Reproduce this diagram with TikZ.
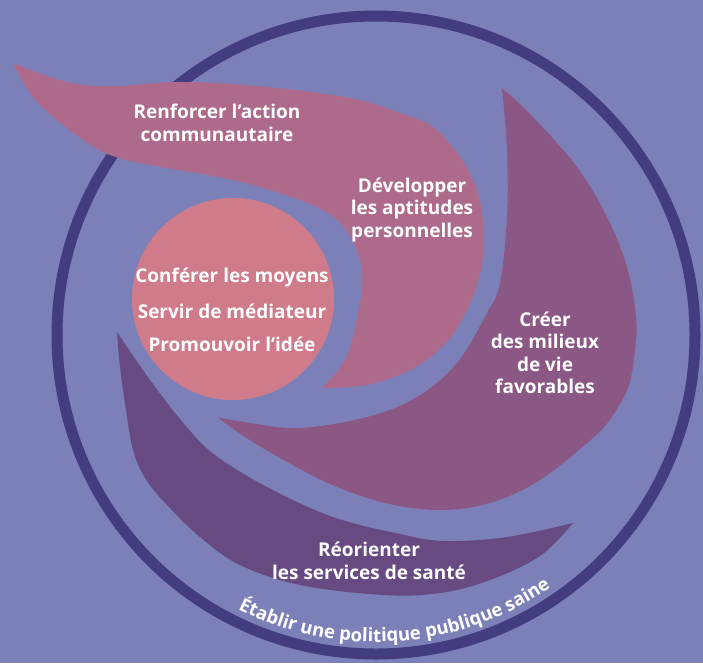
\documentclass[tikz,border=0pt]{standalone}
\usepackage{fontspec}
\setmainfont{Open Sans}
\usetikzlibrary{decorations.text}

\definecolor{fond}{RGB}{124,128,185}
\definecolor{anneau}{RGB}{67,60,127}
\definecolor{coeur}{RGB}{207,123,138}
\definecolor{renf}{RGB}{174,106,138}
\definecolor{cree}{RGB}{139,88,133}
\definecolor{reor}{RGB}{103,74,130}

\tikzset{
  etiq/.style={text=white, align=center, font=\bfseries\fontsize{19}{22.5}\selectfont},
  lisse/.style={smooth, tension=0.6}
}

\begin{document}
\begin{tikzpicture}[x=1pt,y=1pt]

\fill[fond] (0,0) rectangle (703,-663);
\useasboundingbox (0,0) rectangle (703,-663);

\draw[anneau, line width=11] (376,-335) circle[radius=319];

\fill[renf] plot[lisse] coordinates {(13,-63) (50,-77) (83,-85) (120,-86) (183,-82) (267,-87) (350,-98) (400,-113) (433,-127) (460,-157) (477,-190) (483,-223) (483,-257) (475,-290) (463,-318) (443,-346) (410,-370) (367,-385) (322,-388)}
  -- plot[lisse] coordinates {(322,-388) (340,-368) (350,-347) (358,-313) (362,-290) (361,-265) (352,-240) (335,-218) (300,-200) (233,-180) (167,-168) (110,-155) (67,-128) (33,-97) (13,-63)} -- cycle;

\fill[cree] plot[lisse] coordinates {(502,-88) (533,-117) (577,-167) (607,-217) (627,-267) (636,-317) (635,-350) (629,-385) (615,-412) (595,-436) (540,-480) (490,-503) (440,-510) (385,-503) (330,-484) (280,-458) (245,-437) (217,-417)}
  -- plot[lisse] coordinates {(217,-417) (250,-423) (300,-428) (367,-417) (417,-397) (457,-363) (487,-313) (500,-283) (507,-217) (507,-150) (502,-88)} -- cycle;

\fill[reor] plot[lisse] coordinates {(117,-332) (150,-380) (185,-425) (215,-455) (267,-487) (333,-517) (400,-534) (445,-541) (507,-537) (573,-523)}
  -- plot[lisse] coordinates {(573,-523) (540,-556) (490,-580) (440,-593) (383,-595) (300,-585) (240,-565) (200,-537) (167,-505) (145,-478) (133,-450) (126,-410) (120,-367) (117,-332)} -- cycle;

\fill[coeur] (233,-299) circle[radius=101];

\node[etiq] (renforcer) at (217,-123) {Renforcer l’action\\communautaire};
\node[etiq] (developper) at (412,-210) {Développer\\les aptitudes\\personnelles};
\node[etiq] (creer) at (545,-353) {Créer\\des milieux\\de vie\\favorables};
\node[etiq] (reorienter) at (369,-561) {Réorienter\\les services de santé};

\node[etiq] (conferer) at (232,-278) {Conférer les moyens};
\node[etiq] (servir) at (232,-311) {Servir de médiateur};
\node[etiq] (promouvoir) at (232,-344) {Promouvoir l’idée};

\path[decorate, decoration={text along path, text align=center,
    text={|\bfseries\fontsize{18.5}{18.5}\selectfont\color{white}|Établir une politique publique saine}}]
  (376,-335) ++(224:307) arc[start angle=224, end angle=324, radius=307];

\end{tikzpicture}
\end{document}
